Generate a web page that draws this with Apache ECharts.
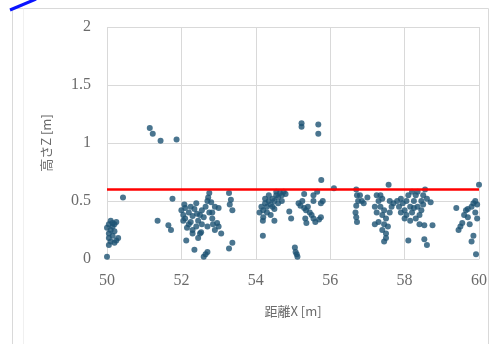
<!DOCTYPE html>
<html><head><meta charset="utf-8">
<script src="https://cdn.jsdelivr.net/npm/echarts@6/dist/echarts.min.js"></script>
<style>html,body{margin:0;padding:0;background:#fff}#c{width:490px;height:344px}</style>
</head><body><div id="c"></div>
<script>
const xTicks = [50, 52, 54, 56, 58, 60];
const yTicks = [0, 0.5, 1, 1.5, 2];
const xAxisTitle = '距離X [m]';
const yAxisTitle = '高さZ [m]';
const thresholdZ = 0.6;
const thresholdX = [50, 60];

const groupA = [[50.0,0.02],[50.05,0.12],[50.1,0.15],[50.15,0.2],[50.2,0.14],[50.05,0.22],[50.1,0.25],[50.15,0.28],[50.2,0.3],[50.25,0.32],[50.05,0.3],[50.1,0.33],[50.0,0.27],[50.25,0.16],[50.3,0.18],[50.15,0.31],[50.05,0.18],[50.2,0.24],[50.43,0.53]];
const groupB = [[51.15,1.13],[51.23,1.08],[51.44,1.02],[51.87,1.03],[51.36,0.33],[51.65,0.29],[51.72,0.25],[51.76,0.52]];
const groupC = [[52.0,0.42],[52.05,0.38],[52.1,0.35],[52.08,0.47],[52.1,0.44],[52.2,0.4],[52.25,0.32],[52.3,0.37],[52.35,0.43],[52.2,0.3],[52.15,0.27],[52.3,0.25],[52.4,0.28],[52.45,0.33],[52.5,0.38],[52.4,0.48],[52.55,0.42],[52.75,0.57],[52.72,0.53],[52.8,0.49],[52.7,0.5],[52.65,0.45],[52.75,0.4],[52.83,0.35],[52.85,0.3],[52.9,0.25],[53.0,0.28],[53.0,0.44],[52.9,0.45],[52.53,0.23],[52.3,0.22],[52.7,0.28],[52.55,0.3],[52.5,0.22],[52.45,0.18],[52.13,0.16],[52.35,0.08],[52.7,0.06],[52.6,0.02],[52.65,0.04],[53.37,0.14],[53.28,0.09],[53.07,0.22],[53.28,0.57],[53.33,0.51],[53.37,0.42],[53.3,0.47],[52.96,0.31],[52.83,0.4],[52.6,0.36],[52.25,0.45],[52.42,0.39],[52.05,0.33]];
const groupD = [[54.1,0.4],[54.15,0.45],[54.2,0.42],[54.25,0.48],[54.3,0.45],[54.35,0.5],[54.3,0.4],[54.4,0.47],[54.45,0.52],[54.5,0.5],[54.55,0.55],[54.6,0.53],[54.65,0.57],[54.7,0.55],[54.75,0.58],[54.5,0.43],[54.4,0.38],[54.2,0.36],[54.6,0.48],[54.7,0.5],[54.35,0.55],[54.55,0.58],[54.8,0.56],[54.45,0.45],[54.25,0.52],[54.19,0.33],[54.19,0.2],[54.5,0.33],[54.9,0.41],[54.95,0.35]];
const groupE = [[55.05,0.1],[55.1,0.04],[55.12,0.02],[55.07,0.06],[55.23,1.17],[55.23,1.14],[55.68,1.16],[55.68,1.08],[55.15,0.48],[55.2,0.46],[55.25,0.5],[55.3,0.44],[55.35,0.42],[55.4,0.45],[55.45,0.4],[55.5,0.38],[55.55,0.35],[55.6,0.32],[55.7,0.34],[55.75,0.36],[55.55,0.55],[55.65,0.58],[55.75,0.48],[55.8,0.5],[55.33,0.35],[55.36,0.31],[55.76,0.68],[56.1,0.61],[55.3,0.56],[55.55,0.5]];
const groupF = [[56.7,0.6],[56.72,0.55],[56.75,0.5],[56.7,0.46],[56.68,0.4],[56.7,0.36],[56.72,0.32],[56.8,0.55],[56.85,0.5],[56.9,0.48],[57.0,0.53]];
const groupG = [[57.2,0.45],[57.25,0.4],[57.3,0.5],[57.35,0.45],[57.4,0.38],[57.45,0.42],[57.5,0.35],[57.45,0.3],[57.4,0.25],[57.5,0.22],[57.55,0.28],[57.6,0.4],[57.65,0.45],[57.35,0.55],[57.4,0.52],[57.57,0.64],[57.25,0.55],[57.2,0.3],[57.3,0.32],[57.5,0.18],[57.45,0.15],[57.6,0.5],[57.7,0.48]];
const groupH = [[57.8,0.5],[57.85,0.45],[57.9,0.52],[57.95,0.48],[58.0,0.42],[58.05,0.5],[58.1,0.55],[58.15,0.45],[58.2,0.4],[58.25,0.5],[58.3,0.55],[58.35,0.45],[58.4,0.38],[58.45,0.5],[58.5,0.55],[58.55,0.6],[58.6,0.52],[58.2,0.58],[58.05,0.38],[58.3,0.35],[58.4,0.3],[57.9,0.4],[58.0,0.35],[58.15,0.33],[58.35,0.58],[58.45,0.42],[58.1,0.16],[58.53,0.29],[58.6,0.12],[58.53,0.17],[58.7,0.49],[58.75,0.29],[58.5,0.47],[58.25,0.44]];
const groupI = [[59.39,0.44],[59.5,0.28],[59.45,0.25],[59.55,0.31],[59.6,0.38],[59.65,0.42],[59.7,0.36],[59.75,0.3],[59.8,0.45],[59.85,0.48],[59.9,0.5],[59.95,0.47],[59.9,0.4],[59.85,0.2],[59.8,0.15],[59.92,0.04],[60.0,0.64],[59.95,0.35],[59.7,0.43]];

const points = [].concat(groupA, groupB, groupC, groupD, groupE, groupF, groupG, groupH, groupI);
const threshold = thresholdX.map(x => [x, thresholdZ]);

const chart = echarts.init(document.getElementById('c'), null, {renderer: 'canvas'});
const tickFont = {fontFamily: 'Liberation Serif', fontSize: 16, color: '#6b6b6b'};
chart.setOption({
  animation: false,
  backgroundColor: '#fff',
  grid: {left: 107, right: 8, top: 27, bottom: 85},
  graphic: [
    {type: 'rect', shape: {x: 12.5, y: 8.5, width: 476, height: 360}, style: {fill: 'none', stroke: '#d9d9d9', lineWidth: 1}, z: -1},
    {type: 'line', shape: {x1: 23.5, y1: 8.5, x2: 23.5, y2: 344}, style: {stroke: '#f0f0f0', lineWidth: 1}, z: -1},
    {type: 'line', shape: {x1: 10, y1: 10, x2: 36, y2: -1}, style: {stroke: '#0a14ff', lineWidth: 3}}
  ],
  xAxis: {
    type: 'value', min: xTicks[0], max: xTicks[xTicks.length-1], interval: 2,
    name: xAxisTitle, nameLocation: 'middle', nameGap: 46,
    nameTextStyle: {fontFamily: 'Noto Sans CJK JP', fontSize: 13, color: '#6b6b6b'},
    axisLine: {show: true, lineStyle: {color: '#d9d9d9'}},
    axisTick: {show: false},
    axisLabel: Object.assign({margin: 14}, tickFont),
    splitLine: {show: true, lineStyle: {color: '#d9d9d9'}}
  },
  yAxis: {
    type: 'value', min: yTicks[0], max: yTicks[yTicks.length-1], interval: 0.5,
    name: yAxisTitle, nameLocation: 'middle', nameGap: 54, nameRotate: 90,
    nameTextStyle: {fontFamily: 'Noto Sans CJK JP', fontSize: 13, color: '#6b6b6b'},
    axisLine: {show: false},
    axisTick: {show: false},
    axisLabel: Object.assign({margin: 16}, tickFont),
    splitLine: {show: true, lineStyle: {color: '#d9d9d9'}}
  },
  series: [
    {type: 'scatter', data: points, symbol: 'circle', symbolSize: 6,
     itemStyle: {color: '#1d5273'}, z: 3},
    {type: 'line', data: threshold, symbol: 'none',
     lineStyle: {color: '#ff0000', width: 2.5}, z: 4}
  ]
});
</script></body></html>
